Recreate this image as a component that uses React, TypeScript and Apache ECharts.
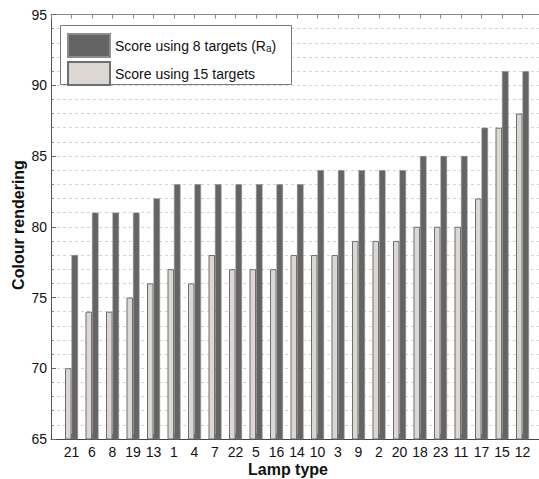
import React, { useEffect, useRef } from "react";
import * as echarts from "echarts";

// Lamp types, in plotted order
const lampTypes = ["21", "6", "8", "19", "13", "1", "4", "7", "22", "5", "16", "14", "10", "3", "9", "2", "20", "18", "23", "11", "17", "15", "12"];
// Colour rendering score from the 8 standard samples (Ra)
const score8 = [78, 81, 81, 81, 82, 83, 83, 83, 83, 83, 83, 83, 84, 84, 84, 84, 84, 85, 85, 85, 87, 91, 91];
// Colour rendering score from the 15 samples
const score15 = [70, 74, 74, 75, 76, 77, 76, 78, 77, 77, 77, 78, 78, 78, 79, 79, 79, 80, 80, 80, 82, 87, 88];
const yTicks = [65, 70, 75, 80, 85, 90, 95];

const FONT = "Liberation Sans, Arial, Helvetica, sans-serif";

export default function App() {
  const ref = useRef<HTMLDivElement>(null);

  useEffect(() => {
    if (!ref.current) return;
    const chart = echarts.init(ref.current, undefined, { renderer: "svg" });

    const xMax = lampTypes.length + 1;
    const pairs = (vals: number[]) => vals.map((v, i) => [i + 1, v]);

    chart.setOption({
      animation: false,
      backgroundColor: "#ffffff",
      textStyle: { fontFamily: FONT },
      grid: {
        left: 51,
        top: 14.5,
        height: 424.5,
        width: 20.5 * xMax,
        containLabel: false,
        outerBoundsMode: "none",
      },
      legend: {
        left: 67,
        top: 33,
        orient: "vertical",
        itemWidth: 42,
        itemHeight: 23,
        itemGap: 3,
        padding: 0,
        z: 5,
        textStyle: {
          fontFamily: FONT,
          fontSize: 14,
          color: "#111",
          rich: {
            sub: { fontSize: 10, verticalAlign: "bottom", padding: [6, 0, 0, 0], fontFamily: FONT, color: "#111" },
          },
        },
        formatter: (name: string) =>
          name === "ra" ? "Score using 8 targets (R{sub|a})" : "Score using 15 targets",
        data: [
          { name: "ra", icon: "rect" },
          { name: "s15", icon: "rect" },
        ],
      },
      xAxis: [
        {
          type: "value",
          min: 0,
          max: xMax,
          interval: 1,
          axisLine: { show: true, lineStyle: { color: "#444", width: 1 } },
          axisTick: { show: true, inside: true, length: 5, lineStyle: { color: "#444" } },
          splitLine: { show: false },
          axisLabel: {
            fontFamily: FONT,
            fontSize: 14,
            color: "#111",
            margin: 6,
            formatter: (v: number) => (v >= 1 && v <= lampTypes.length ? lampTypes[v - 1] : ""),
          },
        },
        {
          type: "value",
          position: "top",
          min: 0,
          max: xMax,
          interval: 1,
          axisLine: { show: true, onZero: false, lineStyle: { color: "#8a8a8a", width: 1 } },
          axisTick: { show: true, inside: true, length: 4, lineStyle: { color: "#8a8a8a" } },
          axisLabel: { show: false },
          splitLine: { show: false },
        },
      ],
      yAxis: {
        type: "value",
        min: yTicks[0],
        max: yTicks[yTicks.length - 1],
        interval: 5,
        axisLine: { show: true, lineStyle: { color: "#555", width: 1 } },
        axisTick: { show: true, inside: true, length: 5, lineStyle: { color: "#666" } },
        minorTick: { show: true, splitNumber: 5, length: 3, lineStyle: { color: "#888" } },
        splitLine: { show: true, lineStyle: { color: "#d4d4d4", type: [3, 3], width: 1 } },
        minorSplitLine: { show: true, lineStyle: { color: "#d4d4d4", type: [3, 3], width: 1 } },
        axisLabel: { fontFamily: FONT, fontSize: 14, color: "#111", margin: 4 },
      },
      graphic: [
        {
          // legend frame
          type: "rect",
          z: 3,
          shape: { x: 60.5, y: 25.5, width: 231, height: 59 },
          style: { fill: "#ffffff", stroke: "#7a7a7a", lineWidth: 1 },
        },
        {
          type: "text",
          x: 18,
          y: 225,
          rotation: Math.PI / 2,
          style: {
            text: "Colour rendering",
            font: `bold 16px ${FONT}`,
            fill: "#111",
            textAlign: "center",
            textVerticalAlign: "middle",
          },
        },
        {
          type: "text",
          x: 288,
          y: 469,
          style: {
            text: "Lamp type",
            font: `bold 16px ${FONT}`,
            fill: "#111",
            textAlign: "center",
            textVerticalAlign: "middle",
          },
        },
      ],
      series: [
        {
          name: "s15",
          type: "bar",
          data: pairs(score15),
          barWidth: 6.5,
          barGap: "0%",
          itemStyle: { color: "#dcd7d3", borderColor: "#6e6e6e", borderWidth: 1 },
        },
        {
          name: "ra",
          type: "bar",
          data: pairs(score8),
          barWidth: 6.5,
          barGap: "0%",
          itemStyle: { color: "#646464", borderColor: "#8c8c8c", borderWidth: 0.6 },
        },
      ],
    });

    return () => chart.dispose();
  }, []);

  return (
    <div
      ref={ref}
      style={{ position: "absolute", left: 0, top: 0, width: 539, height: 479 }}
    />
  );
}
